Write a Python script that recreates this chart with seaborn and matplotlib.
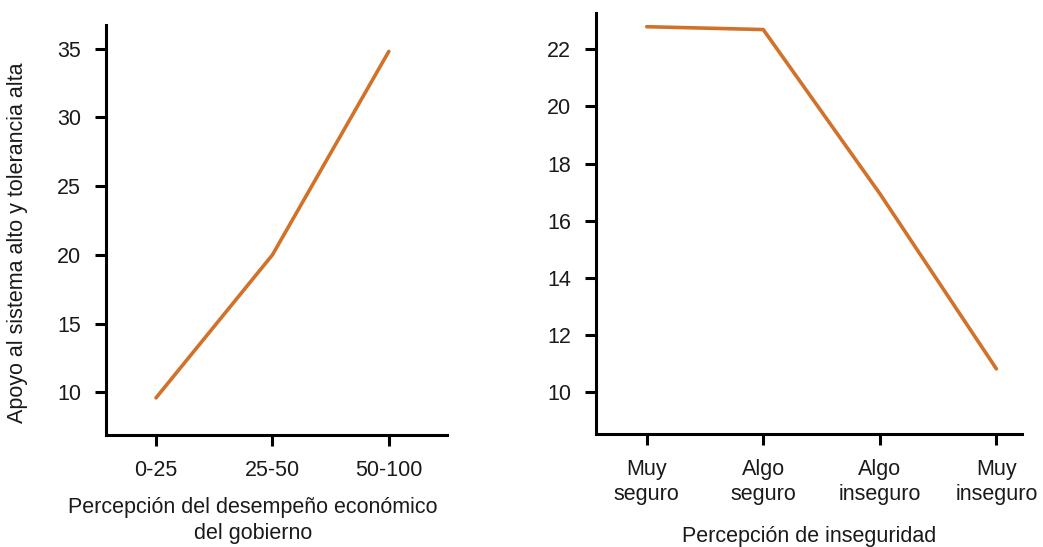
import pandas as pd
import seaborn as sns
import matplotlib.pyplot as plt

sns.set_style('ticks')
plt.rcParams['font.family'] = ['Liberation Sans', 'DejaVu Sans']

# Panel 1: economic performance perception
econ_cats = ['0-25', '25-50', '50-100']
econ_vals = [9.6, 20.0, 34.8]

# Panel 2: insecurity perception
inseg_cats = ['Muy\nseguro', 'Algo\nseguro', 'Algo\ninseguro', 'Muy\ninseguro']
inseg_vals = [22.79, 22.69, 16.95, 10.82]

LINE_COLOR = '#D2722A'
TEXT_COLOR = '#1a1a1a'
FS = 15.5


def style_axis(ax):
    sns.despine(ax=ax)
    for side in ['left', 'bottom']:
        ax.spines[side].set_linewidth(2.2)
        ax.spines[side].set_color('black')
    ax.tick_params(axis='both', width=2.2, length=8, color='black',
                   labelsize=FS, labelcolor=TEXT_COLOR, pad=10)


def main():
    fig = plt.figure(figsize=(10.43, 5.47), dpi=100)
    ax1 = fig.add_axes([0.1016, 0.2048, 0.327, 0.749])
    ax2 = fig.add_axes([0.5714, 0.206, 0.4085, 0.7708])

    df1 = pd.DataFrame({'cat': econ_cats, 'val': econ_vals})
    sns.lineplot(x='cat', y='val', data=df1, ax=ax1, color=LINE_COLOR,
                 linewidth=2.6)
    ax1.set_xlim(-0.43, 2.5)
    ax1.set_ylim(6.9, 36.7)
    ax1.set_yticks([10, 15, 20, 25, 30, 35])
    style_axis(ax1)
    ax1.set_xlabel('Percepción del desempeño económico\ndel gobierno',
                   fontsize=FS, color=TEXT_COLOR, linespacing=1.3)
    ax1.xaxis.set_label_coords(0.431, -0.151)
    ax1.set_ylabel('Apoyo al sistema alto y tolerancia alta', fontsize=FS,
                   color=TEXT_COLOR)
    ax1.yaxis.set_label_coords(-0.229, 0.47)

    df2 = pd.DataFrame({'cat': inseg_cats, 'val': inseg_vals})
    sns.lineplot(x='cat', y='val', data=df2, ax=ax2, color=LINE_COLOR,
                 linewidth=2.6)
    ax2.set_xlim(-0.435, 3.22)
    ax2.set_ylim(8.53, 23.28)
    ax2.set_yticks([10, 12, 14, 16, 18, 20, 22])
    style_axis(ax2)
    ax2.set_xlabel('Percepción de inseguridad', fontsize=FS,
                   color=TEXT_COLOR)
    ax2.xaxis.set_label_coords(0.5, -0.218)
    ax2.set_ylabel('')

    plt.savefig('out.png', dpi=100)


if __name__ == '__main__':
    main()
